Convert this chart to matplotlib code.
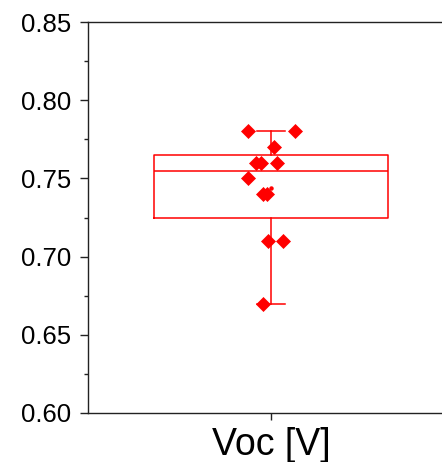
import matplotlib
matplotlib.use("Agg")
import matplotlib.pyplot as plt
import numpy as np

category = "Voc [V]"
voc_values = [0.78, 0.78, 0.77, 0.76, 0.76, 0.76, 0.75, 0.74, 0.74, 0.71, 0.71, 0.67]
jitter = [-0.063, 0.066, 0.008, -0.041, -0.027, 0.016, -0.063, -0.022, -0.011, -0.008, 0.033, -0.022]
yticks = [0.60, 0.65, 0.70, 0.75, 0.80, 0.85]

plt.rcParams['font.family'] = ['Liberation Sans', 'DejaVu Sans']

vals = np.sort(np.array(voc_values))
n = len(vals)
lower = vals[: n // 2]
upper = vals[(n + 1) // 2:]
stats = [{
    'med': np.median(vals),
    'q1': np.median(lower),
    'q3': np.median(upper),
    'whislo': vals.min(),
    'whishi': vals.max(),
    'mean': vals.mean(),
    'fliers': [],
    'label': category,
}]

fig = plt.figure(figsize=(4.42, 4.62), dpi=100)
ax = fig.add_axes([88/442, 1 - 413/462, 366/442, 391/462])

red = '#ff0000'
ax.bxp(stats, positions=[1], widths=0.642, showmeans=True, showfliers=False,
       boxprops=dict(color=red, linewidth=1.1),
       medianprops=dict(color=red, linewidth=1.1),
       whiskerprops=dict(color=red, linewidth=1.1),
       capprops=dict(color=red, linewidth=1.1),
       meanprops=dict(marker='o', markersize=2.2, markerfacecolor=red, markeredgecolor=red),
       capwidths=0.079)

xs = 1 + np.array(jitter)
ax.plot(xs, voc_values, linestyle='none', marker='D', markersize=7.4,
        markerfacecolor=red, markeredgecolor=red, markeredgewidth=0.5, zorder=3)

ax.set_xlim(0.5, 1.5)
ax.set_ylim(0.60, 0.85)
ax.set_yticks(yticks)
ax.set_yticklabels([f"{t:.2f}" for t in yticks])
ax.set_yticks(np.arange(0.625, 0.85, 0.05), minor=True)
ax.set_xticks([1])
ax.set_xticklabels([category])

for s in ax.spines.values():
    s.set_color('#222222')
    s.set_linewidth(1.0)

ax.tick_params(axis='y', which='major', direction='out', length=6, width=1,
               labelsize=18.5, pad=6, colors='#222222', labelcolor='black')
ax.tick_params(axis='y', which='minor', direction='out', length=3, width=1, colors='#222222')
ax.tick_params(axis='x', which='major', direction='out', length=5, width=1,
               labelsize=27, pad=5, colors='#222222', labelcolor='black')

fig.savefig('out.png', dpi=100)
